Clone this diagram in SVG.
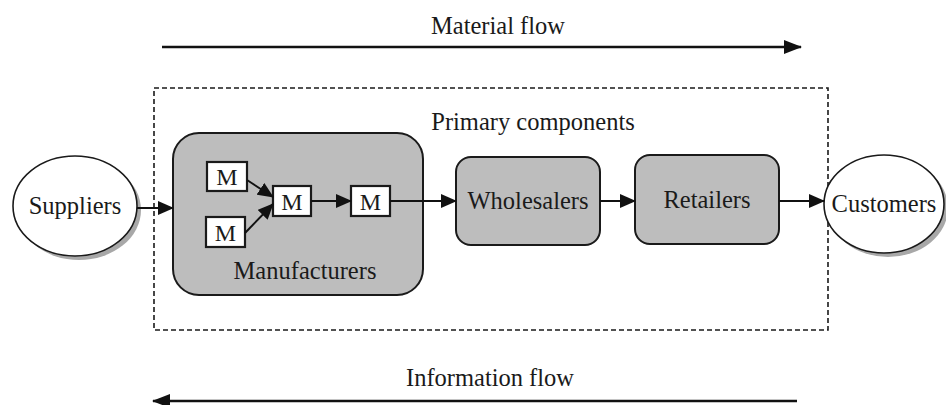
<svg xmlns="http://www.w3.org/2000/svg" width="946" height="405" viewBox="0 0 946 405" font-family="'Liberation Serif', 'Times New Roman', serif">
<style>
.lbl{font-family:'Liberation Serif','Times New Roman',Times,serif;font-size:24.5px;fill:#1a1a1a;text-anchor:middle}
.m{font-family:'Liberation Serif','Times New Roman',Times,serif;font-size:24px;fill:#1a1a1a;text-anchor:middle}
.box{fill:#bdbdbd;stroke:#1a1a1a;stroke-width:2}
.mb{fill:#ffffff;stroke:#1a1a1a;stroke-width:2.2}
.ell{fill:#ffffff;stroke:#1a1a1a;stroke-width:1.6}
.sh{fill:#6e6e6e;opacity:0.6}
.con{stroke:#111;stroke-width:2;fill:none;marker-end:url(#ah)}
.flow{stroke:#111;stroke-width:2.5;fill:none}
</style>
<defs>
<marker id="ah" markerUnits="userSpaceOnUse" markerWidth="16" markerHeight="14" refX="15" refY="7" orient="auto">
<path d="M0,0 L16,7 L0,14 Z" fill="#111"/>
</marker>
<marker id="fh" markerUnits="userSpaceOnUse" markerWidth="18" markerHeight="14" refX="17" refY="7" orient="auto">
<path d="M0,0 L18,7 L0,14 Z" fill="#111"/>
</marker>
</defs>
<rect x="0" y="0" width="946" height="405" fill="#ffffff"/>

<g id="material-flow">
<text class="lbl" x="498" y="34">Material flow</text>
<line class="flow" x1="162" y1="47" x2="801" y2="47" marker-end="url(#fh)"/>
</g>

<g id="primary-components">
<rect x="154" y="88" width="674" height="242" fill="none" stroke="#1a1a1a" stroke-width="1.6" stroke-dasharray="5,3"/>
<text class="lbl" x="533" y="130">Primary components</text>
</g>

<g id="suppliers">
<ellipse class="sh" cx="79" cy="210" rx="62" ry="50"/>
<ellipse class="ell" cx="75" cy="206" rx="62" ry="50"/>
<text class="lbl" x="75" y="214">Suppliers</text>
</g>

<g id="manufacturers">
<rect class="box" x="173" y="133" width="250" height="162" rx="26"/>
<text class="lbl" x="305" y="279">Manufacturers</text>
</g>
<g id="m1"><rect class="mb" x="207" y="162" width="40" height="29"/><text class="m" x="227" y="185">M</text></g>
<g id="m2"><rect class="mb" x="206" y="217" width="39" height="30"/><text class="m" x="225.5" y="240.5">M</text></g>
<g id="m3"><rect class="mb" x="273" y="186" width="38" height="30"/><text class="m" x="292" y="209.5">M</text></g>
<g id="m4"><rect class="mb" x="351" y="186" width="39" height="30"/><text class="m" x="370.5" y="209.5">M</text></g>

<g id="wholesalers">
<rect class="box" x="456" y="157" width="144" height="88" rx="15"/>
<text class="lbl" x="528" y="209">Wholesalers</text>
</g>

<g id="retailers">
<rect class="box" x="635" y="155" width="144" height="89" rx="15"/>
<text class="lbl" x="707" y="208">Retailers</text>
</g>

<g id="customers">
<ellipse class="sh" cx="888" cy="208" rx="60" ry="49"/>
<ellipse class="ell" cx="884" cy="204" rx="60" ry="49"/>
<text class="lbl" x="884" y="212">Customers</text>
</g>

<g id="connectors">
<line class="con" x1="137" y1="208" x2="173" y2="208"/>
<line class="con" x1="247" y1="180" x2="273" y2="197"/>
<line class="con" x1="245" y1="233" x2="273" y2="204"/>
<line class="con" x1="311" y1="201" x2="351" y2="201"/>
<line class="con" x1="390" y1="201" x2="456" y2="201"/>
<line class="con" x1="600" y1="201" x2="635" y2="201"/>
<line class="con" x1="779" y1="201" x2="824" y2="201"/>
</g>

<g id="information-flow">
<text class="lbl" x="490" y="386">Information flow</text>
<line class="flow" x1="797" y1="401" x2="153" y2="401" marker-end="url(#fh)"/>
</g>
</svg>
